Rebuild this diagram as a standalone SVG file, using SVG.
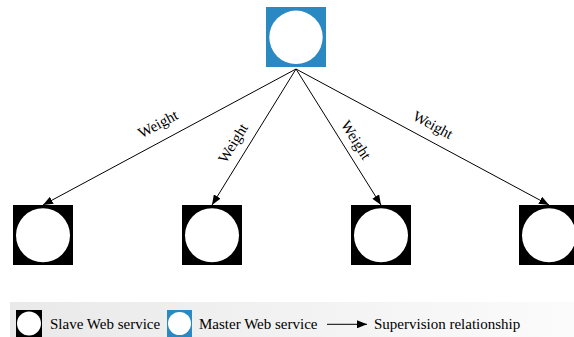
<svg xmlns="http://www.w3.org/2000/svg" width="574" height="337" viewBox="0 0 574 337">
  <style>
    .slave { fill: #000000; }
    .master { fill: #2a88c2; }
    .hole { fill: #ffffff; }
    .edge { stroke: #000000; stroke-width: 1; fill: none; marker-end: url(#arrow); }
    .lbl { font-family: "Liberation Serif", "Times New Roman", serif; font-size: 15px; fill: #000000; }
    .leg { font-family: "Liberation Serif", "Times New Roman", serif; font-size: 15px; fill: #000000; }
  </style>
  <defs>
    <marker id="arrow" viewBox="0 0 10 8" refX="10" refY="4" markerWidth="10" markerHeight="8" markerUnits="userSpaceOnUse" orient="auto">
      <path d="M0,0 L10,4 L0,8 Z" fill="#000000"/>
    </marker>
    <linearGradient id="legendBg" x1="0" y1="0" x2="1" y2="0">
      <stop offset="0" stop-color="#e9e9e9"/>
      <stop offset="1" stop-color="#fbfbfb"/>
    </linearGradient>
  </defs>

  <rect width="574" height="337" fill="#ffffff"/>

  <!-- master service -->
  <g id="master">
    <rect class="master" x="266" y="7" width="60" height="60"/>
    <circle class="hole" cx="296" cy="37.3" r="26.7"/>
  </g>

  <!-- slave services -->
  <g id="slave1">
    <rect class="slave" x="13" y="205" width="60" height="60"/>
    <circle class="hole" cx="43" cy="235.3" r="27"/>
  </g>
  <g id="slave2">
    <rect class="slave" x="182" y="205" width="60" height="60"/>
    <circle class="hole" cx="212" cy="235.3" r="27"/>
  </g>
  <g id="slave3">
    <rect class="slave" x="351" y="205" width="60" height="60"/>
    <circle class="hole" cx="381" cy="235.3" r="27"/>
  </g>
  <g id="slave4">
    <rect class="slave" x="519" y="205" width="60" height="60"/>
    <circle class="hole" cx="549" cy="235.3" r="27"/>
  </g>

  <!-- supervision edges -->
  <g id="connectors">
    <line class="edge" x1="296" y1="69" x2="43" y2="205"/>
    <line class="edge" x1="296" y1="69" x2="212" y2="205"/>
    <line class="edge" x1="296" y1="69" x2="381" y2="205"/>
    <line class="edge" x1="296" y1="69" x2="549" y2="205"/>
    <text class="lbl" text-anchor="middle" transform="translate(158,124) rotate(-28.3)" dy="5">Weight</text>
    <text class="lbl" text-anchor="middle" transform="translate(233,143) rotate(-58.3)" dy="5">Weight</text>
    <text class="lbl" text-anchor="middle" transform="translate(356,140) rotate(58)" dy="5">Weight</text>
    <text class="lbl" text-anchor="middle" transform="translate(433,125) rotate(28.3)" dy="5">Weight</text>
  </g>

  <!-- legend -->
  <g id="legend">
    <rect x="10" y="302" width="564" height="35" fill="url(#legendBg)"/>
    <rect class="slave" x="16" y="310" width="26" height="27"/>
    <circle class="hole" cx="29" cy="323.5" r="12"/>
    <text class="leg" x="50" y="329">Slave Web service</text>
    <rect class="master" x="167" y="310" width="25" height="27"/>
    <circle class="hole" cx="179.5" cy="323.5" r="11.5"/>
    <text class="leg" x="199" y="329">Master Web service</text>
    <line class="edge" x1="327" y1="324.3" x2="367" y2="324.3"/>
    <text class="leg" x="374" y="329">Supervision relationship</text>
  </g>
</svg>
